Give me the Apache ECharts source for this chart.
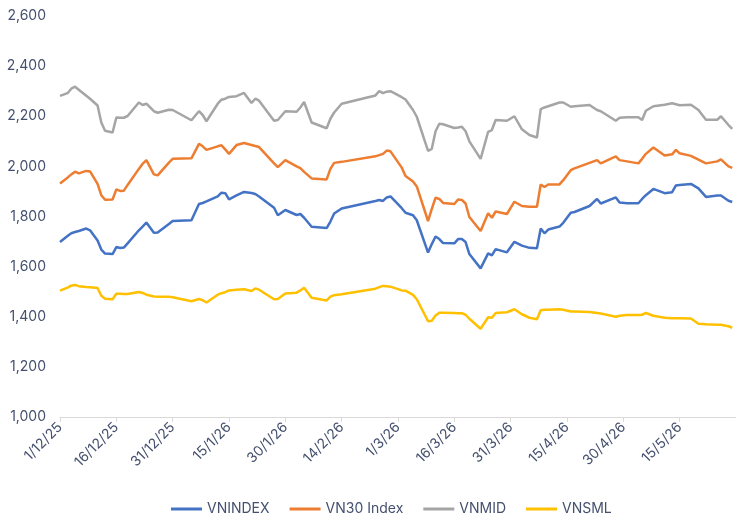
<!DOCTYPE html>
<html>
<head>
<meta charset="utf-8">
<script src="https://cdn.jsdelivr.net/npm/echarts@6/dist/echarts.min.js"></script>
<style>
  html, body { margin: 0; padding: 0; background: #fff; }
  #chart { width: 736px; height: 515px; }
</style>
</head>
<body>
<div id="chart"></div>
<script>
// trading dates
const dates = [
  '2025-12-01','2025-12-03','2025-12-04','2025-12-05','2025-12-06','2025-12-08','2025-12-09','2025-12-11','2025-12-12','2025-12-13',
  '2025-12-15','2025-12-16','2025-12-17','2025-12-18','2025-12-19','2025-12-22','2025-12-23','2025-12-24','2025-12-26','2025-12-27',
  '2025-12-30','2025-12-31','2026-01-05','2026-01-07','2026-01-08','2026-01-09','2026-01-12','2026-01-13','2026-01-14','2026-01-15',
  '2026-01-17','2026-01-19','2026-01-21','2026-01-22','2026-01-23','2026-01-27','2026-01-28','2026-01-30','2026-02-02','2026-02-03',
  '2026-02-04','2026-02-06','2026-02-10','2026-02-11','2026-02-12','2026-02-14','2026-02-23','2026-02-24','2026-02-25','2026-02-26',
  '2026-02-27','2026-03-02','2026-03-03','2026-03-05','2026-03-06','2026-03-09','2026-03-10','2026-03-11','2026-03-12','2026-03-13',
  '2026-03-16','2026-03-17','2026-03-18','2026-03-19','2026-03-20','2026-03-23','2026-03-25','2026-03-26','2026-03-27','2026-03-30',
  '2026-04-01','2026-04-03','2026-04-05','2026-04-07','2026-04-08','2026-04-09','2026-04-10','2026-04-13','2026-04-14','2026-04-16',
  '2026-04-17','2026-04-21','2026-04-23','2026-04-24','2026-04-28','2026-04-29','2026-05-01','2026-05-04','2026-05-05','2026-05-06',
  '2026-05-08','2026-05-11','2026-05-13','2026-05-14','2026-05-15','2026-05-18','2026-05-20','2026-05-22','2026-05-25','2026-05-26',
  '2026-05-28','2026-05-29'
];

const vnindex = [
  1698,1722,1733,1738,1742,1752,1745,1704,1668,1652,
  1650,1678,1674,1676,1693,1745,1760,1776,1735,1736,
  1770,1782,1785,1850,1854,1860,1880,1895,1893,1868,
  1884,1898,1894,1890,1880,1835,1805,1826,1806,1810,
  1795,1759,1754,1780,1812,1832,1862,1866,1862,1876,
  1880,1833,1815,1805,1785,1656,1690,1720,1710,1694,
  1693,1710,1710,1698,1650,1593,1653,1645,1670,1657,
  1699,1684,1675,1673,1752,1733,1748,1760,1775,1815,
  1818,1842,1870,1852,1876,1856,1853,1853,1870,1885,
  1910,1893,1897,1924,1926,1930,1912,1878,1884,1884,
  1863,1858
];

const vn30 = [
  1932,1955,1968,1979,1972,1982,1980,1930,1885,1867,
  1868,1908,1902,1903,1926,1990,2010,2025,1968,1964,
  2015,2030,2032,2090,2080,2066,2080,2084,2068,2050,
  2085,2093,2085,2081,2077,2012,1997,2025,2000,1993,
  1978,1952,1948,1990,2014,2018,2040,2045,2050,2063,
  2060,1995,1962,1940,1920,1782,1830,1875,1870,1854,
  1850,1868,1866,1852,1798,1742,1813,1795,1820,1810,
  1859,1842,1839,1839,1928,1918,1928,1928,1945,1985,
  1992,2014,2025,2012,2040,2025,2020,2012,2030,2050,
  2075,2043,2048,2066,2052,2042,2027,2012,2020,2028,
  2000,1994
];

const vnmid = [
  2281,2292,2310,2318,2306,2282,2270,2243,2175,2142,
  2135,2195,2194,2194,2201,2255,2245,2250,2220,2214,
  2226,2225,2184,2220,2205,2180,2250,2266,2270,2277,
  2280,2293,2253,2270,2262,2182,2185,2220,2218,2235,
  2257,2175,2152,2190,2215,2250,2283,2300,2292,2298,
  2300,2276,2267,2225,2198,2062,2070,2140,2170,2168,
  2153,2155,2158,2140,2100,2030,2138,2145,2185,2182,
  2200,2148,2125,2115,2228,2235,2240,2255,2255,2238,
  2240,2245,2225,2220,2182,2194,2196,2196,2185,2222,
  2240,2246,2252,2248,2244,2246,2225,2186,2186,2200,
  2165,2150
];

const vnsml = [
  1504,1516,1524,1527,1522,1519,1518,1515,1484,1472,
  1470,1492,1492,1491,1491,1499,1495,1488,1481,1480,
  1480,1478,1462,1471,1466,1457,1488,1494,1498,1505,
  1508,1510,1503,1513,1508,1470,1471,1493,1496,1505,
  1516,1476,1465,1480,1486,1490,1512,1518,1523,1522,
  1520,1505,1504,1487,1470,1382,1384,1405,1416,1416,
  1415,1414,1414,1408,1392,1352,1398,1396,1415,1418,
  1430,1410,1396,1390,1426,1428,1428,1430,1428,1421,
  1421,1419,1415,1413,1400,1404,1407,1407,1408,1415,
  1404,1396,1394,1394,1394,1393,1372,1370,1368,1368,
  1362,1356
];

const seriesNames = ['VNINDEX', 'VN30 Index', 'VNMID', 'VNSML'];
const seriesColors = ['#4472c4', '#ed7d31', '#a5a5a5', '#ffc000'];

const DAY = 86400000;
const START = Date.UTC(2025, 11, 1);
const dayOf = (s) => {
  const [y, m, d] = s.split('-').map(Number);
  return Math.round((Date.UTC(y, m - 1, d) - START) / DAY);
};
const labelOf = (day) => {
  const dt = new Date(START + day * DAY);
  return `${dt.getUTCDate()}/${dt.getUTCMonth() + 1}/${String(dt.getUTCFullYear()).slice(2)}`;
};

const xs = dates.map(dayOf);
const pair = (vals) => vals.map((v, i) => [xs[i], v]);

const textColor = '#44506e';
const font = 'Inter';

const chart = echarts.init(document.getElementById('chart'), null, { renderer: 'canvas' });

chart.setOption({
  animation: false,
  textStyle: { fontFamily: font },
  grid: { left: 60, right: -6, top: 16, bottom: 98 },
  legend: {
    left: 166,
    top: 497,
    icon: 'rect',
    itemWidth: 31,
    itemHeight: 3,
    itemGap: 20,
    textStyle: { fontSize: 14, color: textColor, fontFamily: font },
    data: seriesNames
  },
  xAxis: {
    type: 'value',
    min: 0,
    max: 180,
    interval: 15,
    splitLine: { show: false },
    axisLine: { show: true, lineStyle: { color: '#d9d9d9', width: 1 } },
    axisTick: { show: true, length: 5, lineStyle: { color: '#d9d9d9' } },
    axisLabel: {
      rotate: 45,
      margin: 8,
      fontSize: 14,
      color: textColor,
      showMaxLabel: false,
      formatter: (v) => labelOf(v)
    }
  },
  yAxis: {
    type: 'value',
    min: 1000,
    max: 2600,
    interval: 200,
    splitLine: { show: false },
    axisLine: { show: false },
    axisTick: { show: false },
    axisLabel: {
      margin: 14,
      fontSize: 14,
      color: textColor,
      formatter: (v) => v.toLocaleString('en-US')
    }
  },
  series: [vnindex, vn30, vnmid, vnsml].map((vals, i) => ({
    name: seriesNames[i],
    type: 'line',
    data: pair(vals),
    showSymbol: false,
    color: seriesColors[i],
    lineStyle: { width: 2.5, color: seriesColors[i] },
    z: 4 - i
  }))
});
</script>
</body>
</html>
